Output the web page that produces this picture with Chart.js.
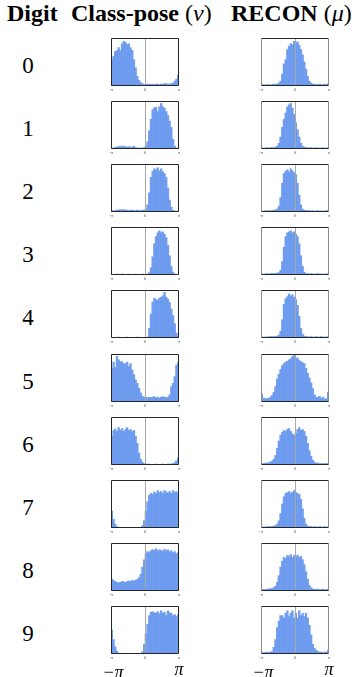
<!DOCTYPE html>
<html>
<head>
<meta charset="utf-8">
<script src="https://cdn.jsdelivr.net/npm/chart.js@4"></script>
<style>
  html, body { margin: 0; padding: 0; background: #fff; }
  body { width: 356px; height: 677px; position: relative; overflow: hidden; font-family: "Liberation Serif", "DejaVu Serif", serif; color: #000; }
  .hdr { position: absolute; top: 1px; font-size: 24px; line-height: 24px; white-space: nowrap; }
  .hdr b { font-weight: bold; }
  .hdr .m { font-weight: normal; }
  .digit { position: absolute; width: 40px; text-align: center; font-size: 23px; line-height: 23px; }
  .lab { position: absolute; font-size: 18px; line-height: 18px; font-style: italic; white-space: nowrap; transform: translateX(-50%); }
  canvas { position: absolute; }
</style>
</head>
<body>
<div class="hdr" style="left:7px"><b>Digit</b></div>
<div class="hdr" style="left:71px"><b>Class-pose</b> <span class="m">(<i>ν</i>)</span></div>
<div class="hdr" style="left:231px"><b>RECON</b> <span class="m">(<i>μ</i>)</span></div>
<div id="wrap"></div>
<script>
// dane – histogramy kątów, 40 przedziałów od -pi do pi (wysokość względna 0-100)
const digits = ['0', '1', '2', '3', '4', '5', '6', '7', '8', '9'];
const xTicks = ['−π', '0', 'π'];

// Class-pose (nu)
const nu0 = [55, 62, 72, 74, 80, 74, 88, 93, 91, 87, 88, 80, 74, 55, 38, 20, 12, 7, 5, 3, 3, 4, 4, 3, 4, 3, 4, 4, 3, 4, 4, 5, 5, 4, 4, 5, 6, 10, 14, 23];
const nu1 = [2, 2, 3, 4, 5, 6, 5, 6, 5, 4, 5, 4, 4, 6, 3, 2, 2, 2, 2, 3, 6, 15, 38, 62, 82, 86, 87, 78, 88, 95, 88, 85, 78, 70, 58, 45, 20, 6, 2, 2];
const nu2 = [2, 3, 3, 4, 4, 5, 4, 5, 4, 4, 3, 4, 4, 3, 3, 4, 3, 3, 4, 4, 6, 15, 40, 72, 85, 90, 88, 92, 86, 90, 84, 80, 72, 50, 25, 10, 4, 2, 2, 1];
const nu3 = [1, 1, 1, 2, 1, 1, 2, 1, 1, 1, 2, 1, 1, 1, 2, 1, 1, 1, 2, 1, 1, 2, 5, 15, 38, 65, 80, 88, 92, 88, 90, 85, 78, 62, 40, 18, 6, 2, 1, 1];
const nu4 = [1, 1, 1, 1, 2, 1, 1, 1, 1, 2, 1, 1, 1, 1, 1, 2, 1, 1, 1, 1, 1, 2, 20, 50, 75, 83, 80, 79, 83, 85, 88, 95, 85, 81, 74, 60, 47, 30, 10, 4];
const nu5 = [70, 83, 72, 95, 88, 84, 84, 80, 80, 83, 74, 80, 67, 57, 46, 39, 29, 19, 12, 10, 10, 9, 10, 9, 10, 11, 9, 10, 8, 10, 11, 10, 9, 10, 15, 32, 39, 53, 77, 83];
const nu6 = [60, 72, 75, 70, 78, 72, 76, 70, 74, 78, 72, 74, 70, 72, 60, 45, 25, 12, 6, 3, 2, 2, 2, 1, 1, 1, 2, 1, 1, 1, 2, 1, 1, 2, 2, 2, 3, 5, 9, 15];
const nu7 = [35, 18, 8, 3, 1, 1, 1, 1, 1, 1, 1, 1, 1, 1, 1, 1, 1, 1, 5, 15, 35, 55, 68, 72, 70, 75, 72, 78, 74, 76, 72, 78, 75, 73, 76, 72, 78, 74, 76, 72];
const nu8 = [25, 22, 20, 18, 17, 18, 20, 19, 18, 20, 21, 20, 22, 21, 23, 24, 28, 35, 50, 65, 78, 82, 80, 84, 86, 85, 88, 84, 86, 85, 83, 87, 84, 86, 82, 84, 80, 82, 78, 80];
const nu9 = [50, 30, 15, 6, 2, 1, 1, 1, 1, 1, 1, 1, 1, 1, 1, 1, 1, 1, 5, 20, 42, 62, 80, 87, 88, 86, 85, 88, 84, 90, 85, 87, 80, 90, 86, 85, 80, 82, 78, 82];

// RECON (mu)
const mu0 = [3, 3, 2, 3, 3, 2, 3, 4, 3, 4, 6, 10, 25, 46, 55, 76, 83, 88, 86, 93, 90, 92, 85, 76, 65, 50, 35, 20, 10, 6, 4, 4, 3, 3, 4, 3, 3, 4, 3, 5];
const mu1 = [2, 2, 2, 3, 2, 3, 3, 3, 4, 6, 12, 25, 45, 62, 75, 88, 92, 95, 85, 72, 55, 40, 25, 12, 6, 4, 3, 3, 2, 3, 2, 2, 3, 2, 2, 2, 3, 2, 2, 3];
const mu2 = [2, 2, 3, 2, 3, 3, 3, 4, 4, 6, 12, 30, 60, 80, 85, 88, 84, 90, 86, 82, 78, 60, 35, 15, 6, 4, 3, 3, 3, 2, 3, 2, 2, 3, 2, 2, 2, 2, 3, 3];
const mu3 = [2, 2, 2, 3, 2, 3, 3, 3, 3, 4, 5, 10, 28, 58, 80, 88, 90, 92, 88, 90, 85, 80, 65, 40, 18, 6, 3, 3, 2, 3, 2, 2, 2, 3, 2, 2, 2, 2, 2, 3];
const mu4 = [2, 2, 2, 2, 3, 3, 3, 3, 3, 4, 6, 14, 38, 70, 82, 86, 92, 88, 90, 85, 80, 68, 45, 20, 8, 4, 3, 3, 2, 3, 2, 2, 3, 2, 2, 3, 2, 2, 2, 3];
const mu5 = [17, 8, 7, 7, 8, 10, 14, 20, 32, 48, 58, 68, 76, 80, 83, 85, 88, 90, 95, 97, 90, 92, 87, 84, 82, 80, 70, 60, 50, 40, 28, 15, 10, 10, 12, 8, 10, 6, 7, 20];
const mu6 = [3, 3, 4, 4, 5, 6, 8, 12, 20, 35, 50, 62, 68, 72, 70, 74, 76, 70, 65, 62, 66, 74, 78, 72, 74, 70, 60, 45, 30, 18, 10, 6, 4, 4, 3, 3, 3, 3, 3, 4];
const mu7 = [2, 2, 2, 3, 3, 3, 3, 4, 5, 8, 15, 30, 50, 65, 72, 74, 76, 72, 75, 78, 74, 72, 70, 60, 40, 20, 8, 4, 3, 3, 2, 3, 2, 2, 3, 2, 2, 3, 2, 3];
const mu8 = [3, 3, 3, 4, 4, 5, 5, 7, 10, 18, 32, 50, 62, 70, 68, 74, 72, 76, 70, 74, 72, 75, 70, 72, 65, 55, 40, 25, 12, 7, 4, 4, 3, 4, 3, 3, 4, 3, 3, 4];
const mu9 = [3, 3, 3, 4, 3, 4, 5, 14, 30, 55, 68, 80, 80, 75, 85, 90, 78, 85, 90, 75, 85, 75, 90, 80, 85, 78, 85, 75, 60, 40, 20, 12, 8, 5, 4, 4, 3, 4, 4, 8];

const nuSeries = [nu0, nu1, nu2, nu3, nu4, nu5, nu6, nu7, nu8, nu9];
const muSeries = [mu0, mu1, mu2, mu3, mu4, mu5, mu6, mu7, mu8, mu9];

// układ
const BOX_W = 68, BOX_H = 48;
const colLeft = [111, 261];
const rowTop = i => Math.round(38 + i * 63.1);
const PAD = 4, PAD_B = 10;
const barColor = 'rgba(100,149,237,0.9)';

const wrap = document.getElementById('wrap');

// rysowanie ramki, linii w 0 i malutkich etykiet osi
const framePlugin = {
  id: 'frame',
  afterDatasetsDraw(chart, args, opts) {
    const ctx = chart.ctx;
    const a = chart.chartArea;
    const xs = chart.scales.x;
    ctx.save();
    // szara linia w zerze
    const x0 = Math.round(xs.getPixelForValue(0)) + 0.5;
    ctx.strokeStyle = '#a8a8a8';
    ctx.lineWidth = 1;
    ctx.beginPath();
    ctx.moveTo(x0, a.top);
    ctx.lineTo(x0, a.bottom);
    ctx.stroke();
    // ramka
    const l = Math.round(a.left) + 0.5, r = Math.round(a.right) - 0.5;
    const t = Math.round(a.top) + 0.5, b = Math.round(a.bottom) - 0.5;
    ctx.strokeStyle = '#262626';
    ctx.beginPath();
    ctx.moveTo(l, t); ctx.lineTo(r, t);
    ctx.moveTo(l, b); ctx.lineTo(r, b);
    ctx.stroke();
    ctx.strokeStyle = opts.sideColor || '#262626';
    ctx.beginPath();
    ctx.moveTo(l, t); ctx.lineTo(l, b);
    ctx.moveTo(r, t); ctx.lineTo(r, b);
    ctx.stroke();
    // malutkie etykiety pod osią
    ctx.fillStyle = '#444';
    ctx.font = '4px "Liberation Serif"';
    ctx.textAlign = 'center';
    ctx.textBaseline = 'top';
    [-Math.PI, 0, Math.PI].forEach((v, k) => {
      ctx.fillText(xTicks[k], xs.getPixelForValue(v), a.bottom + 1.5);
    });
    ctx.restore();
  }
};

function makePanel(values, left, top, sideColor) {
  const canvas = document.createElement('canvas');
  const w = BOX_W + PAD * 2, h = BOX_H + PAD + PAD_B;
  canvas.width = w; canvas.height = h;
  canvas.style.left = (left - PAD) + 'px';
  canvas.style.top = (top - PAD) + 'px';
  canvas.style.width = w + 'px';
  canvas.style.height = h + 'px';
  wrap.appendChild(canvas);

  const n = values.length;
  const step = 2 * Math.PI / n;
  const pts = values.map((v, i) => ({ x: -Math.PI + (i + 0.5) * step, y: v }));

  new Chart(canvas.getContext('2d'), {
    type: 'bar',
    data: {
      datasets: [{
        data: pts,
        backgroundColor: barColor,
        borderWidth: 0,
        barPercentage: 1,
        categoryPercentage: 1
      }]
    },
    options: {
      responsive: false,
      animation: false,
      devicePixelRatio: 1,
      layout: { padding: { left: PAD, right: PAD, top: PAD, bottom: PAD_B } },
      plugins: { legend: { display: false }, tooltip: { enabled: false }, frame: { sideColor } },
      scales: {
        x: { type: 'linear', min: -Math.PI, max: Math.PI, offset: false, display: false },
        y: { min: 0, max: 100, display: false }
      }
    },
    plugins: [framePlugin]
  });
}

digits.forEach((d, i) => {
  const top = rowTop(i);
  const el = document.createElement('div');
  el.className = 'digit';
  el.textContent = d;
  el.style.left = '8px';
  el.style.top = (top + BOX_H / 2 - 8) + 'px';
  document.body.appendChild(el);

  makePanel(nuSeries[i], colLeft[0], top, '#262626');
  makePanel(muSeries[i], colLeft[1], top, '#8a8a8a');
});

// etykiety osi na dole
[[colLeft[0], '−π', 663], [colLeft[0] + BOX_W, 'π', 660], [colLeft[1], '−π', 663], [colLeft[1] + BOX_W, 'π', 660]]
  .forEach(([x, t, y]) => {
    const el = document.createElement('div');
    el.className = 'lab';
    el.textContent = t;
    el.style.left = (x + (t === '−π' ? 2 : 0)) + 'px';
    el.style.top = y + 'px';
    document.body.appendChild(el);
  });
</script>
</body>
</html>
